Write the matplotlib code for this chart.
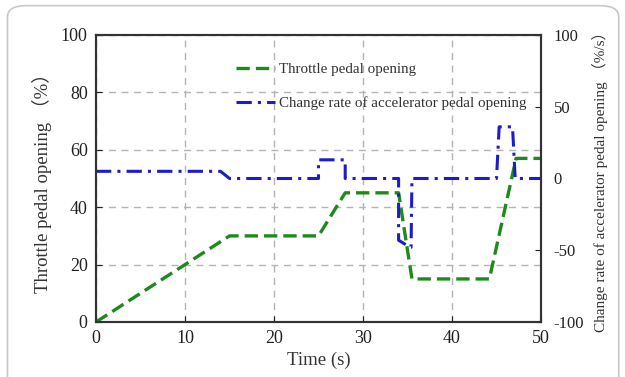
import matplotlib.pyplot as plt
import matplotlib.patches as mpatches

plt.rcParams['font.family'] = ['Liberation Serif', 'Noto Sans CJK SC']
plt.rcParams['axes.unicode_minus'] = False

# throttle pedal opening (%), left axis
t_throttle = [0, 15, 25, 28, 34, 35.5, 44.2, 47.2, 50]
throttle = [0, 30, 30, 45, 45, 15, 15, 57, 57]

# change rate of accelerator pedal opening (%/s), right axis
t_rate = [0, 14, 15, 25, 25, 28, 28, 34, 34, 35.3, 35.4, 35.5, 45, 45.3, 46.8, 47.1, 50]
rate = [5, 5, 0, 0, 13, 13, 0, 0, -43, -48, -48, 0, 0, 36, 36, 0, 0]

xticks = [0, 10, 20, 30, 40, 50]
yticks_left = [0, 20, 40, 60, 80, 100]
yticks_right = [-100, -50, 0, 50, 100]

fig = plt.figure(figsize=(6.25, 3.77), dpi=100)

# rounded card frame around the figure
frame = mpatches.FancyBboxPatch((0.012, -0.1), 0.978, 1.085,
                                boxstyle='round,pad=0,rounding_size=0.03',
                                transform=fig.transFigure, facecolor='none',
                                edgecolor='#c8c8c8', linewidth=1.2)
fig.patches.append(frame)

ax = fig.add_axes([0.1536, 0.1459, 0.712, 0.7613])
ax2 = ax.twinx()

ax.plot(t_throttle, throttle, ls=(0, (4, 1.8)), c='#1e8a1e', lw=2.4,
        label='Throttle pedal opening')
ax2.plot(t_rate, rate, ls=(0, (5, 2, 1, 2)), c='#1c1ccc', lw=2.2,
         label='Change rate of accelerator pedal opening')

ax.set_xlim(0, 50)
ax.set_ylim(0, 100)
ax2.set_ylim(-100, 100)
ax.set_xticks(xticks)
ax.set_yticks(yticks_left)
ax2.set_yticks(yticks_right)

ax.grid(True, ls=(0, (5, 4)), c='#b4b4b4', lw=1.0)
ax.tick_params(direction='in', labelsize=13, colors='#222222', length=4, pad=6)
ax2.tick_params(direction='in', labelsize=12, colors='#222222', length=4, pad=9)

for a in (ax, ax2):
    for s in a.spines.values():
        s.set_linewidth(1.5)
        s.set_color('#333333')

ax.set_xlabel('Time (s)', fontsize=13.5, color='#333333', labelpad=3)
ax.set_ylabel('Throttle pedal opening （%）', fontsize=13.5, color='#333333',
              labelpad=6)
ax2.set_ylabel('Change rate of accelerator pedal opening （%/s）', fontsize=11,
               color='#333333', labelpad=6)

h1, l1 = ax.get_legend_handles_labels()
h2, l2 = ax2.get_legend_handles_labels()
ax.legend(h1 + h2, l1 + l2, loc='upper left', bbox_to_anchor=(0.285, 0.95),
          frameon=False, fontsize=10.8, handlelength=2.6, handletextpad=0.25,
          labelspacing=1.35, labelcolor='#333333')

fig.savefig('out.png', dpi=100)
